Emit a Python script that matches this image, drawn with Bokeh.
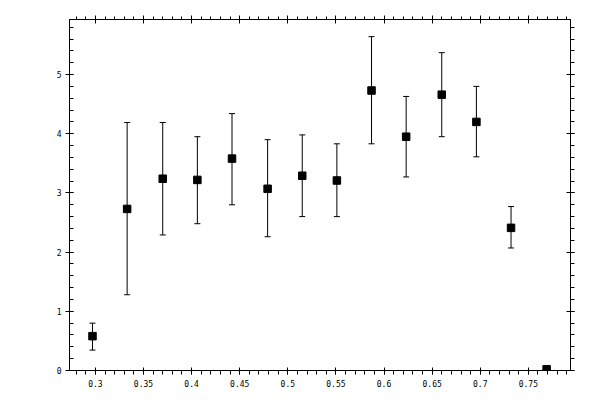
import numpy as np
from bokeh.plotting import figure
from bokeh.models import (ColumnDataSource, Whisker, TeeHead, LinearAxis, FixedTicker,
                          NumeralTickFormatter, Range1d)
from bokeh.embed import file_html
from bokeh.resources import INLINE

# data
x_vals = [0.297, 0.333, 0.370, 0.406, 0.442, 0.479, 0.515, 0.551, 0.587, 0.623, 0.660, 0.696, 0.732, 0.769]
y_vals = [0.58, 2.73, 3.24, 3.22, 3.58, 3.07, 3.29, 3.21, 4.73, 3.95, 4.66, 4.20, 2.41, 0.02]
y_upper = [0.80, 4.19, 4.19, 3.95, 4.34, 3.90, 3.98, 3.83, 5.64, 4.63, 5.37, 4.80, 2.77, 0.02]
y_lower = [0.345, 1.28, 2.29, 2.48, 2.80, 2.26, 2.60, 2.60, 3.83, 3.27, 3.95, 3.61, 2.07, 0.02]

x_major = [0.3, 0.35, 0.4, 0.45, 0.5, 0.55, 0.6, 0.65, 0.7, 0.75]
y_major = [0, 1, 2, 3, 4, 5]

x_minor = [round(v, 2) for v in np.arange(0.27, 0.80, 0.01)]
y_minor = [round(v, 1) for v in np.arange(0.0, 6.0, 0.2)]

src = ColumnDataSource(dict(x=x_vals, y=y_vals, upper=y_upper, lower=y_lower))

p = figure(frame_width=501, frame_height=351, output_backend="svg", toolbar_location=None,
           x_range=Range1d(0.2731, 0.7938), y_range=Range1d(0, 5.93),
           x_axis_location=None, y_axis_location=None,
           min_border_left=69, min_border_top=19, min_border_right=29, min_border_bottom=29)
p.xgrid.visible = False
p.ygrid.visible = False
p.outline_line_color = "black"
p.background_fill_color = "white"
p.border_fill_color = "white"

font = "DejaVu Sans Mono"

def style(ax, mj_in, mj_out, mn_in, mn_out, labels=True):
    ax.axis_line_color = "black"
    ax.axis_line_width = 1
    ax.major_tick_line_color = "black"
    ax.minor_tick_line_color = "black"
    ax.major_tick_in = mj_in
    ax.major_tick_out = mj_out
    ax.minor_tick_in = mn_in
    ax.minor_tick_out = mn_out
    ax.major_label_text_font = font
    ax.major_label_text_font_size = "8px"
    ax.major_label_text_color = "black"
    if not labels:
        ax.major_label_text_font_size = "0px"
        ax.major_label_text_alpha = 0

xt = FixedTicker(ticks=x_major, minor_ticks=x_minor)
yt = FixedTicker(ticks=y_major, minor_ticks=y_minor)

bottom = LinearAxis(ticker=xt, formatter=NumeralTickFormatter(format="0.[00]"))
style(bottom, 3, 4, 0, 4)
bottom.major_label_standoff = 5
top = LinearAxis(ticker=xt)
style(top, 4, 4, 0, 3, labels=False)
left = LinearAxis(ticker=yt)
style(left, 4, 4, 4, 0)
left.major_label_standoff = 4
right = LinearAxis(ticker=yt)
style(right, 4, 4, 0, 4, labels=False)

p.add_layout(bottom, "below")
p.add_layout(top, "above")
p.add_layout(left, "left")
p.add_layout(right, "right")

w = Whisker(source=src, base="x", upper="upper", lower="lower", dimension="height",
            line_color="black", line_width=1,
            upper_head=TeeHead(size=6, line_color="black", line_width=1),
            lower_head=TeeHead(size=6, line_color="black", line_width=1))
p.add_layout(w)
p.scatter("x", "y", source=src, marker="square", size=7.5, fill_color="black", line_color="black")

open("out.html", "w").write(file_html(p, INLINE))
